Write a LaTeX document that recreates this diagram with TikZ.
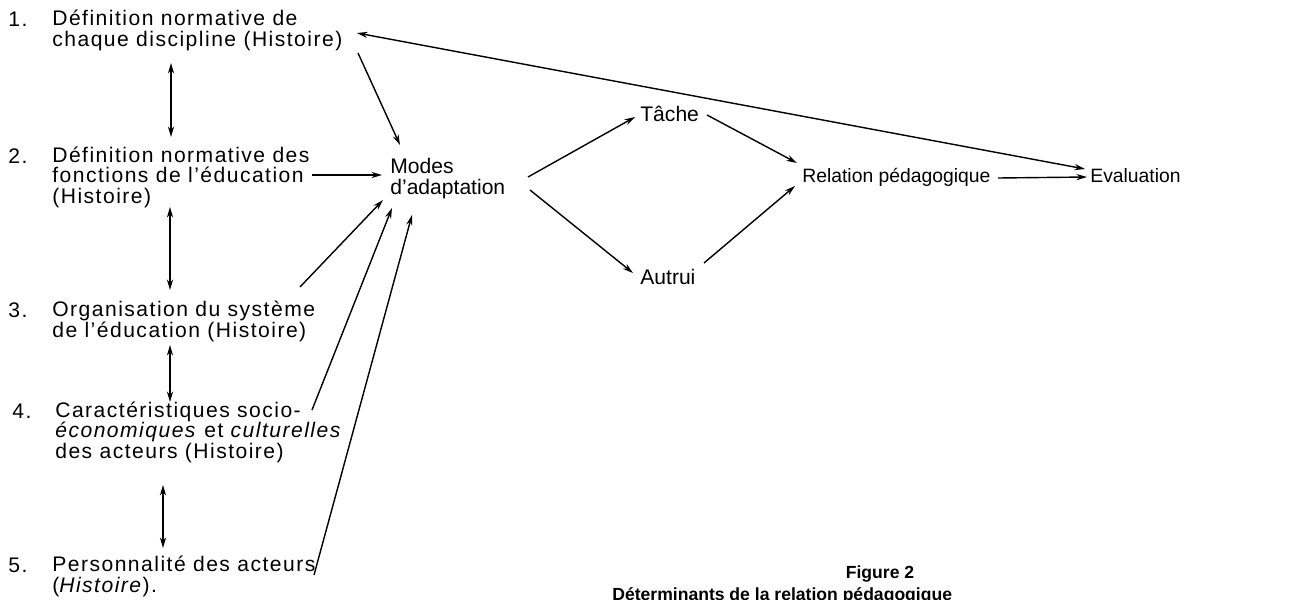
\documentclass[tikz,border=0pt]{standalone}
\usepackage{fontspec}
\setmainfont{Liberation Sans}
\newfontfamily\widefont[LetterSpace=7,Ligatures=TeX]{Liberation Sans}
\usetikzlibrary{arrows.meta}

\tikzset{
  txt/.style={inner sep=0pt, anchor=base west, align=left,
    font=\widefont\fontsize{12}{11.4}\selectfont},
  num/.style={inner sep=0pt, anchor=base west, font=\widefont\fontsize{12}{11.4}\selectfont},
  mid/.style={inner sep=0pt, anchor=base west, align=left,
    font=\fontsize{12}{11.4}\selectfont},
  small/.style={inner sep=0pt, anchor=base west, font=\fontsize{11}{11.4}\selectfont},
  arr/.style={line width=.8pt, -{Stealth[length=6pt,width=3.5pt]}},
  darr/.style={line width=.8pt, {Stealth[length=6pt,width=3.5pt]}-{Stealth[length=6pt,width=3.5pt]}}
}

\begin{document}
\begin{tikzpicture}[x=.02cm, y=-.02cm]
	\useasboundingbox (0,0) rectangle (1316,599);
	% links: die fuenf Faktoren (base = letzte Zeile)
	\node[num] (n1) at (8,26)   {1.};
	\node[txt] (item1) at (52,46)  {Définition normative de\\chaque discipline (Histoire)};
	\node[num] (n2) at (8,163)  {2.};
	\node[txt] (item2) at (52,203) {Définition normative des\\fonctions de l’éducation\\(Histoire)};
	\node[num] (n3) at (8,317)  {3.};
	\node[txt] (item3) at (52,337) {Organisation du système\\de l’éducation (Histoire)};
	\node[num] (n4) at (12,418) {4.};
	\node[txt] (item4) at (55,458) {Caractéristiques socio-\\\emph{économiques} et \emph{culturelles}\\des acteurs (Histoire)};
	\node[num] (n5) at (8,572)  {5.};
	\node[txt] (item5) at (52,592) {Personnalité des acteurs\\(\emph{Histoire}).};
	% Mitte und rechts
	\node[mid] (modes) at (390,194)        {Modes\\d’adaptation};
	\node[mid] (tache) at (640,121)        {Tâche};
	\node[mid] (autrui) at (640,284)       {Autrui};
	\node[small] (relation) at (802,182)   {Relation pédagogique};
	\node[small] (evaluation) at (1090,182) {Evaluation};
	% Legende
	\node[inner sep=0pt, anchor=base, font=\fontsize{10}{10}\selectfont\bfseries] (fig) at (880,578) {Figure 2};
	\node[inner sep=0pt, anchor=base west, font=\fontsize{10}{10}\selectfont\bfseries] (legende) at (612,600) {Déterminants de la relation pédagogique};
	% Doppelpfeile
	\draw[darr] ([shift={(119,17)}]item1.base west) -- ([shift={(119,-66)}]item2.base west);
	\draw[darr] ([shift={(118,4)}]item2.base west) -- ([shift={(118,-47)}]item3.base west);
	\draw[darr] ([shift={(118,8)}]item3.base west) -- ([shift={(115,-56)}]item4.base west);
	\draw[darr] ([shift={(108,27)}]item4.base west) -- ([shift={(111,-44)}]item5.base west);
	% Pfeile
	\draw[arr] ([shift={(306,7)}]item1.base west) -- ([shift={(10,-49)}]modes.base west);
	\draw[arr] ([shift={(260,-28)}]item2.base west) -- ([shift={(-8,-19)}]modes.base west);
	\draw[arr] ([shift={(248,-50)}]item3.base west) -- ([shift={(-7,6)}]modes.base west);
	\draw[arr] ([shift={(257,-48)}]item4.base west) -- ([shift={(2,14)}]modes.base west);
	\draw[arr] ([shift={(262,-17)}]item5.base west) -- ([shift={(22,21)}]modes.base west);
	\draw[arr] ([shift={(138,-17)}]modes.base west) -- ([shift={(-5,-4)}]tache.base west);
	\draw[arr] ([shift={(140,-4)}]modes.base west) -- ([shift={(-7,-11)}]autrui.base west);
	\draw[arr] ([shift={(67,-6)}]tache.base west) -- ([shift={(-5,-19)}]relation.base west);
	\draw[arr] ([shift={(64,-21)}]autrui.base west) -- ([shift={(-7,4)}]relation.base west);
	\draw[arr] ([shift={(196,-4)}]relation.base west) -- ([shift={(-3,-5)}]evaluation.base west);
	\draw[darr] ([shift={(-5,-13)}]evaluation.base west) -- ([shift={(305,-13)}]item1.base west);
\end{tikzpicture}
\end{document}
